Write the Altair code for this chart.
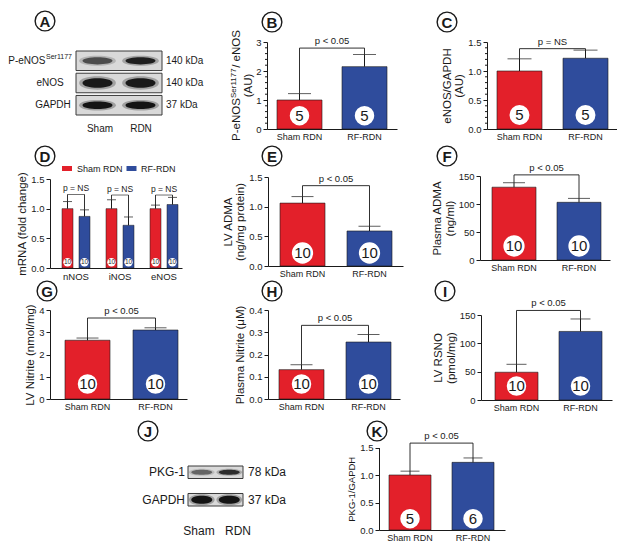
import altair as alt
import pandas as pd

FONT = "Liberation Sans"
INK = "#1a1a1a"
RED = "#E3202A"
BLUE = "#2F4C9C"
GROUPS = ["Sham RDN", "RF-RDN"]

# ---------------- data ----------------
B_MEAN = [1.00, 2.15]; B_ERR = [0.22, 0.42]; B_N = [5, 5]
C_MEAN = [1.00, 1.22]; C_ERR = [0.21, 0.14]; C_N = [5, 5]
D_GENES = ["nNOS", "iNOS", "eNOS"]
D_SHAM_MEAN = [1.00, 1.00, 1.00]; D_SHAM_ERR = [0.12, 0.15, 0.06]
D_RF_MEAN = [0.87, 0.72, 1.07]; D_RF_ERR = [0.11, 0.14, 0.12]
D_N = [10, 10]
D_LEVELS = [1.24, 1.23, 1.23]
E_MEAN = [1.06, 0.59]; E_ERR = [0.11, 0.08]; E_N = [10, 10]
F_MEAN = [130, 103]; F_ERR = [8, 7]; F_N = [10, 10]
G_MEAN = [2.64, 3.10]; G_ERR = [0.10, 0.10]; G_N = [10, 10]
H_MEAN = [0.132, 0.256]; H_ERR = [0.022, 0.034]; H_N = [10, 10]
I_MEAN = [49, 121]; I_ERR = [14, 22]; I_N = [10, 10]
K_MEAN = [1.00, 1.23]; K_ERR = [0.07, 0.08]; K_N = [5, 6]

A_PROTEINS = ["P-eNOS", "eNOS", "GAPDH"]
A_KDA = ["140 kDa", "140 kDa", "37 kDa"]
A_LANES = ["Sham", "RDN"]
A_BANDS = [[0.62, 0.88], [0.92, 0.92], [0.95, 0.95]]
J_PROTEINS = ["PKG-1", "GAPDH"]
J_KDA = ["78 kDa", "37 kDa"]
J_LANES = ["Sham", "RDN"]
J_BANDS = [[0.5, 0.8], [0.95, 0.95]]

# ---------------- layout helpers ----------------
CW, CH = 203, 132


def origin(r, c):
    return 8 + c * CW, 8 + r * CH


ARIAL = {"P": 667, "-": 333, "e": 556, "N": 722, "O": 778, "S": 667, "r": 333,
         "1": 556, "7": 556, "/": 278, " ": 278, "(": 333, ")": 333, "A": 667, "U": 722}


def text_w(s, size):
    return sum(ARIAL.get(ch, 556) for ch in s) * size / 1000.0


def one(**kw):
    return pd.DataFrame({k: [v] for k, v in kw.items()})


def letter_layers(letter, pos, org):
    x = pos[0] - org[0]
    y = pos[1] - org[1]
    d = one(t=letter)
    ring = alt.Chart(d).mark_point(shape="circle", filled=False, color=INK, strokeWidth=1.4,
                                   size=390, opacity=1).encode(x=alt.value(x), y=alt.value(y))
    txt = alt.Chart(d).mark_text(fontSize=15, fontWeight="bold", color=INK, align="center",
                                 baseline="middle").encode(x=alt.value(x), y=alt.value(y + 0.5), text="t:N")
    return [ring, txt]


def y_axis(x0, ticks, fmt, title, title_size):
    return alt.Axis(values=ticks, format=fmt, offset=-x0, orient="left", tickSize=4,
                    labelFontSize=9.5, labelPadding=2, title=title, titleFontSize=title_size,
                    titleFontWeight="normal", titlePadding=3, titleLineHeight=12.5, grid=False,
                    domainColor=INK, tickColor=INK, labelColor=INK, titleColor=INK)


def x_axis(yb, size=9):
    return alt.Axis(title=None, orient="bottom", offset=yb - CH, ticks=False, labelAngle=0,
                    labelFontSize=size, labelPadding=3, domainColor=INK, labelColor=INK, grid=False)


def rotated_pieces(pieces, cx, cy):
    total = sum(text_w(t, s) for t, s, _ in pieces)
    y = cy + total / 2
    out = []
    for t, s, sh in pieces:
        out.append(alt.Chart(one(t=t)).mark_text(fontSize=s, angle=270, align="left", baseline="middle",
                                                  color=INK).encode(x=alt.value(cx + sh), y=alt.value(y), text="t:N"))
        y -= text_w(t, s)
    return out


def two_bar_panel(cell, area, geom, means, errs, ns, ymax, ticks, fmt, title, bracket,
                  letter, letter_pos, circ, cap=22, minor=None, title_size=11.5, custom_title=None):
    org = origin(*cell)
    x0, x1 = area[0] - org[0], area[1] - org[0]
    yt, yb = area[2] - org[1], area[3] - org[1]
    left, bw, gap = geom
    W = x1 - x0
    step = bw + gap
    outer = W - (2 * bw + gap)
    sx = alt.Scale(domain=GROUPS, range=[x0, x1], paddingInner=gap / step,
                   paddingOuter=outer / (2 * step), align=left / outer)
    sy = alt.Scale(domain=[0, ymax], range=[yb, yt], nice=False, zero=True)
    xax = x_axis(yb)
    yax = y_axis(x0, ticks, fmt, title, title_size)

    def X(f="group"):
        return alt.X(f"{f}:N", sort=GROUPS, scale=sx, axis=xax)

    def Y(f):
        return alt.Y(f"{f}:Q", scale=sy, axis=yax)

    level, ptxt = bracket
    df = pd.DataFrame({"group": GROUPS, "mean": means,
                       "upper": [m + e for m, e in zip(means, errs)],
                       "n": [str(v) for v in ns], "zero": [0, 0], "level": [level, level]})
    bdf = one(g1=GROUPS[0], g2=GROUPS[1], level=level, p=ptxt)
    cd, cdy, cfs = circ
    mid = x0 + left + bw + gap / 2

    layers = [
        alt.Chart(df).mark_bar(stroke=INK, strokeWidth=0.6).encode(
            x=X(), y=Y("mean"),
            color=alt.Color("group:N", scale=alt.Scale(domain=GROUPS, range=[RED, BLUE]), legend=None)),
        alt.Chart(df).mark_rule(color=INK, strokeWidth=1).encode(x=X(), y=Y("mean"), y2="upper:Q"),
        alt.Chart(df).mark_tick(color=INK, thickness=1, size=cap, orient="horizontal").encode(x=X(), y=Y("upper")),
        alt.Chart(df).mark_rule(color=INK, strokeWidth=0.9).encode(x=X(), y=Y("upper"), y2="level:Q"),
        alt.Chart(bdf).mark_rule(color=INK, strokeWidth=0.9).encode(x=X("g1"), x2="g2:N", y=Y("level")),
        alt.Chart(bdf).mark_text(fontSize=9.5, color=INK, dy=-7, baseline="middle").encode(
            x=alt.value(mid), y=Y("level"), text="p:N"),
        alt.Chart(df).mark_point(shape="circle", filled=True, color="white", opacity=1,
                                 size=3.1416 * (cd / 2) ** 2, yOffset=-cdy).encode(x=X(), y=Y("zero")),
        alt.Chart(df).mark_text(fontSize=cfs, color=INK, dy=-cdy, baseline="middle").encode(
            x=X(), y=Y("zero"), text="n:N"),
    ]
    if minor is not None:
        mdf = pd.DataFrame({"v": minor})
        layers.append(alt.Chart(mdf).mark_rule(color=INK, strokeWidth=1).encode(
            x=alt.value(x0 - 2), x2=alt.value(x0), y=Y("v")))
    if custom_title is not None:
        layers += custom_title(org)
    layers += letter_layers(letter, letter_pos, org)
    return alt.layer(*layers).properties(width=CW, height=CH)


def d_panel():
    cell = (1, 0)
    org = origin(*cell)
    area = (50, 182, 176, 265)
    x0, x1 = area[0] - org[0], area[1] - org[0]
    yt, yb = area[2] - org[1], area[3] - org[1]
    gleft, gw, ggap = 12, 28, 16
    step = gw + ggap
    outer = (x1 - x0) - (3 * gw + 2 * ggap)
    sx = alt.Scale(domain=D_GENES, range=[x0, x1], paddingInner=ggap / step,
                   paddingOuter=outer / (2 * step), align=gleft / outer)
    so = alt.Scale(domain=GROUPS, paddingInner=6 / 17, paddingOuter=0)
    sy = alt.Scale(domain=[0, 1.5], range=[yb, yt], nice=False, zero=True)
    xax = x_axis(yb, 9.5)
    yax = y_axis(x0, [0, 0.5, 1.0, 1.5], ".1f", "mRNA (fold change)", 11.5)
    X = alt.X("gene:N", sort=D_GENES, scale=sx, axis=xax)
    XO = alt.XOffset("group:N", sort=GROUPS, scale=so)

    def Y(f):
        return alt.Y(f"{f}:Q", scale=sy, axis=yax)

    rows = []
    for i, g in enumerate(D_GENES):
        for grp, m, e, n in ((GROUPS[0], D_SHAM_MEAN[i], D_SHAM_ERR[i], D_N[0]),
                             (GROUPS[1], D_RF_MEAN[i], D_RF_ERR[i], D_N[1])):
            rows.append({"gene": g, "group": grp, "mean": m, "upper": m + e, "n": str(n),
                         "zero": 0, "level": D_LEVELS[i]})
    df = pd.DataFrame(rows)
    gdf = pd.DataFrame({"gene": D_GENES, "level": D_LEVELS, "p": ["p = NS"] * 3})
    layers = [
        alt.Chart(df).mark_bar(stroke=INK, strokeWidth=0.5).encode(
            x=X, xOffset=XO, y=Y("mean"),
            color=alt.Color("group:N", scale=alt.Scale(domain=GROUPS, range=[RED, BLUE]), legend=None)),
        alt.Chart(df).mark_rule(color=INK, strokeWidth=1).encode(x=X, xOffset=XO, y=Y("mean"), y2="upper:Q"),
        alt.Chart(df).mark_tick(color=INK, thickness=1, size=9, orient="horizontal").encode(
            x=X, xOffset=XO, y=Y("upper")),
        alt.Chart(df).mark_rule(color=INK, strokeWidth=0.9).encode(x=X, xOffset=XO, y=Y("upper"), y2="level:Q"),
        alt.Chart(gdf).mark_tick(color=INK, thickness=0.9, size=17, orient="horizontal").encode(x=X, y=Y("level")),
        alt.Chart(gdf).mark_text(fontSize=8.5, color=INK, dy=-6, baseline="middle").encode(
            x=X, y=Y("level"), text="p:N"),
        alt.Chart(df).mark_point(shape="circle", filled=True, color="white", opacity=1, size=71,
                                 yOffset=-5.7).encode(x=X, xOffset=XO, y=Y("zero")),
        alt.Chart(df).mark_text(fontSize=6.5, color=INK, dy=-5.7, baseline="middle").encode(
            x=X, xOffset=XO, y=Y("zero"), text="n:N"),
    ]
    rect = "M-1,-0.5H1V0.5H-1Z"
    for grp, col, (sx_, sy_), tx in ((GROUPS[0], RED, (67, 165.5), 77), (GROUPS[1], BLUE, (131.5, 165.5), 141)):
        d = one(t=grp)
        layers.append(alt.Chart(d).mark_point(shape=rect, filled=True, color=col, size=100, opacity=1).encode(
            x=alt.value(sx_ - org[0]), y=alt.value(sy_ - org[1])))
        layers.append(alt.Chart(d).mark_text(fontSize=9, align="left", baseline="middle", color=INK).encode(
            x=alt.value(tx - org[0]), y=alt.value(sy_ - org[1]), text="t:N"))
    layers += letter_layers("D", (45, 153), org)
    return alt.layer(*layers).properties(width=CW, height=CH)


def ellipse(h):
    return f"M-1,0C-1,{-h} 1,{-h} 1,0C1,{h} -1,{h} -1,0Z"


def blot(cell, proteins, kdas, lanes, bands, box_px, rows_px, pad_inner, band_size, band_h,
         font, name_x, name_align, kda_x, lane_x, lane_y, letter, letter_pos, sup=None):
    org = origin(*cell)
    bx = [box_px[0] - org[0], box_px[1] - org[0]]
    ry = [rows_px[0] - org[1], rows_px[1] - org[1]]
    sx = alt.Scale(domain=lanes, range=bx, paddingInner=0, paddingOuter=0.1)
    sy = alt.Scale(domain=proteins, range=ry, paddingInner=pad_inner, paddingOuter=0)
    X = alt.X("lane:N", sort=lanes, scale=sx, axis=None)
    Y = alt.Y("protein:N", sort=proteins, scale=sy, axis=None)
    rows = []
    for i, p in enumerate(proteins):
        for j, l in enumerate(lanes):
            rows.append({"protein": p, "lane": l, "op": bands[i][j], "halo": bands[i][j] * 0.3})
    df = pd.DataFrame(rows)
    pdf = pd.DataFrame({"protein": proteins, "kda": kdas})
    layers = [alt.Chart(pdf).mark_rect(fill="#d9d9d9", stroke="#3a3a3a", strokeWidth=1).encode(
        y=Y, x=alt.value(bx[0]), x2=alt.value(bx[1]))]
    for i, p in enumerate(proteins):
        sub = alt.Chart(df).transform_filter(alt.datum.protein == p)
        layers.append(sub.mark_point(shape=ellipse(band_h[i] * 1.15), filled=True, color="#111111",
                                     size=band_size * 1.5).encode(
            x=X, y=Y, opacity=alt.Opacity("halo:Q", scale=None)))
        layers.append(sub.mark_point(shape=ellipse(band_h[i]), filled=True, color="#0d0d0d",
                                     size=band_size).encode(
            x=X, y=Y, opacity=alt.Opacity("op:Q", scale=None)))
        lab = alt.Chart(pdf).transform_filter(alt.datum.protein == p)
        if sup is not None and sup[i]:
            wsup = text_w(sup[i], font * 0.7)
            layers.append(lab.mark_text(fontSize=font, align="right", baseline="middle", color=INK).encode(
                x=alt.value(name_x[i] - org[0] - wsup), y=Y, text="protein:N"))
            layers.append(alt.Chart(one(t=sup[i], protein=p)).mark_text(
                fontSize=font * 0.7, align="right", baseline="middle", color=INK, dy=-4).encode(
                x=alt.value(name_x[i] - org[0]), y=Y, text="t:N"))
        else:
            layers.append(lab.mark_text(fontSize=font, align=name_align[i], baseline="middle", color=INK).encode(
                x=alt.value(name_x[i] - org[0]), y=Y, text="protein:N"))
    layers.append(alt.Chart(pdf).mark_text(fontSize=font, align="left", baseline="middle", color=INK).encode(
        x=alt.value(kda_x - org[0]), y=Y, text="kda:N"))
    for j, l in enumerate(lanes):
        layers.append(alt.Chart(one(t=l)).mark_text(fontSize=font, align="center", baseline="middle",
                                                     color=INK).encode(
            x=alt.value(lane_x[j] - org[0]), y=alt.value(lane_y - org[1]), text="t:N"))
    layers += letter_layers(letter, letter_pos, org)
    return alt.layer(*layers).properties(width=CW, height=CH)


def b_title(org):
    cx1 = 237 - org[0]
    cx2 = 249 - org[0]
    cy = 82.5 - org[1]
    parts = rotated_pieces([("P-eNOS", 11.5, 0), ("Ser1177", 8, -3.5), ("/ eNOS", 11.5, 0)], cx1, cy)
    parts.append(alt.Chart(one(t="(AU)")).mark_text(fontSize=11.5, angle=270, align="center",
                                                    baseline="middle", color=INK).encode(
        x=alt.value(cx2), y=alt.value(cy), text="t:N"))
    return parts


panel_a = blot((0, 0), A_PROTEINS, A_KDA, A_LANES, A_BANDS, (76, 162), (48, 112), 0.12, 900,
               [0.32, 0.42, 0.33], 10, [72, 50, 53], ["right", "center", "center"], 166,
               [100, 141], 126, "A", (45, 18), sup=["Ser1177", "", ""])

panel_b = two_bar_panel((0, 1), (267, 397, 39, 126), (10, 45, 20), B_MEAN, B_ERR, B_N, 3, [0, 1, 2, 3], "d",
                        None, (2.79, "p < 0.05"), "B", (272, 19), (22, 13.3, 15), cap=23,
                        minor=[v / 5 for v in range(1, 15) if v % 5],
                        custom_title=b_title)

panel_c = two_bar_panel((0, 2), (487, 617, 39, 126), (10, 45, 21), C_MEAN, C_ERR, C_N, 1.5,
                        [0, 0.5, 1.0, 1.5], ".1f", ["eNOS/GAPDH", "(AU)"], (1.385, "p = NS"), "C",
                        (447, 19), (22.5, 14, 15), cap=24,
                        minor=[v / 10 for v in range(1, 15) if v % 5])

panel_d = d_panel()

panel_e = two_bar_panel((1, 1), (268, 403, 174, 263), (12, 45, 22), E_MEAN, E_ERR, E_N, 1.5,
                        [0, 0.5, 1.0, 1.5], ".1f", ["LV ADMA", "(ng/mg protein)"], (1.354, "p < 0.05"),
                        "E", (272, 153), (24, 13, 15))

panel_f = two_bar_panel((1, 2), (480, 610, 173, 257), (12, 44, 21), F_MEAN, F_ERR, F_N, 150,
                        [0, 50, 100, 150], "d", ["Plasma ADMA", "(ng/ml)"], (152, "p < 0.05"),
                        "F", (447, 153), (24, 14, 15))

panel_g = two_bar_panel((2, 0), (50, 187, 307, 396), (15, 45, 23), G_MEAN, G_ERR, G_N, 4,
                        [0, 1, 2, 3, 4], "d", "LV Nitrite (nmol/mg)", (3.64, "p < 0.05"),
                        "G", (47, 288), (22, 15, 15))

panel_h = two_bar_panel((2, 1), (268, 400, 307, 396), (11, 45, 22), H_MEAN, H_ERR, H_N, 0.4,
                        [0, 0.1, 0.2, 0.3, 0.4], ".1f", "Plasma Nitrite (\u03bcM)", (0.331, "p < 0.05"),
                        "H", (272, 288), (22, 15, 15))

panel_i = two_bar_panel((2, 2), (481, 612, 312, 397), (14, 43, 21), I_MEAN, I_ERR, I_N, 150,
                        [0, 50, 100, 150], "d", ["LV RSNO", "(pmol/mg)"], (158, "p < 0.05"),
                        "I", (445, 288), (22, 14, 15), cap=20)

panel_j = blot((3, 0), J_PROTEINS, J_KDA, J_LANES, J_BANDS, (188, 243), (463, 503), 0.545, 441,
               [0.32, 0.5], 12, [185, 185], ["right", "right"], 248, [199, 238], 528, "J", (148, 428))

panel_k = two_bar_panel((3, 1), (379, 505, 444.5, 527), (10, 42, 21), K_MEAN, K_ERR, K_N, 1.5,
                        [0, 0.5, 1.0, 1.5], ".1f", "PKG-1/GAPDH", (1.58, "p < 0.05"),
                        "K", (377, 428), (22, 11.3, 15), cap=19, title_size=9.5)

chart = alt.concat(panel_a, panel_b, panel_c, panel_d, panel_e, panel_f, panel_g, panel_h, panel_i,
                   panel_j, panel_k, columns=3, spacing=0, bounds="flush", align="all",
                   padding=0).configure(font=FONT).configure_view(stroke=None)

chart.save("out.html", embed_options={"renderer": "svg", "actions": False})
